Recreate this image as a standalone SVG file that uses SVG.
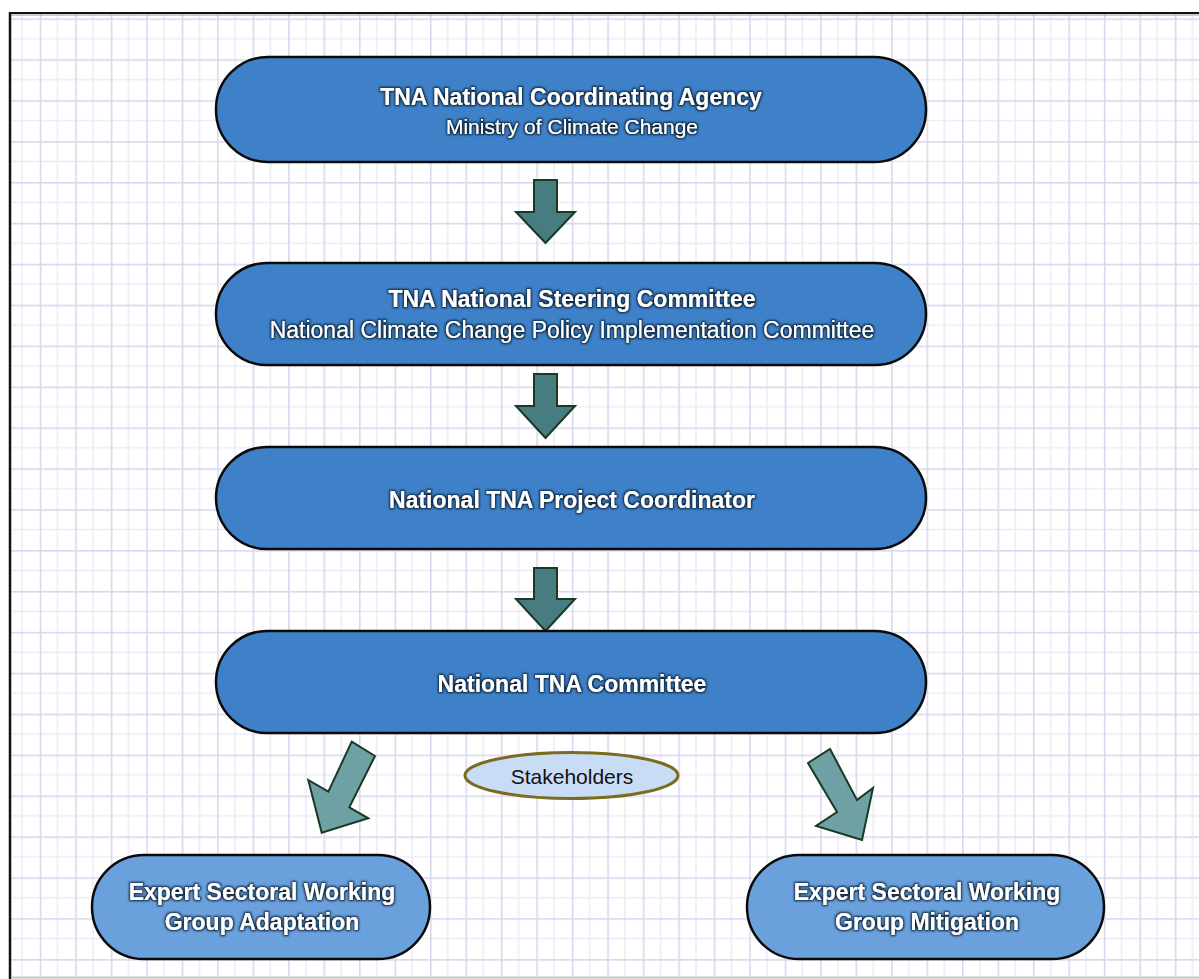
<svg xmlns="http://www.w3.org/2000/svg" width="1199" height="979" viewBox="0 0 1199 979">
<style>
.node{fill:#3f81c9;stroke:#0a0a0a;stroke-width:2.5}
.node2{fill:#6aa0dc;stroke:#0a0a0a;stroke-width:2.5}
.tb{font-family:"Liberation Sans",Arial,sans-serif;font-weight:bold;font-size:23px;fill:#ffffff;text-anchor:middle}
.tr{font-family:"Liberation Sans",Arial,sans-serif;font-size:23px;fill:#ffffff;text-anchor:middle}
.varrow{fill:#477c81;stroke:#183a22;stroke-width:2;stroke-linejoin:miter}
.darrow{fill:#6fa0a4;stroke:#183a22;stroke-width:2;stroke-linejoin:miter}
</style>
<defs>
<pattern id="grid" patternUnits="userSpaceOnUse" x="4.3" y="18.35" width="35.47" height="40.9">
<rect x="17" y="0" width="1.5" height="40.9" fill="#ebebf8"/>
<rect x="0" y="19.7" width="35.47" height="1.5" fill="#ebebf8"/>
<rect x="0" y="0" width="1.6" height="40.9" fill="#d9d7ef"/>
<rect x="0" y="0" width="35.47" height="1.6" fill="#d9d7ef"/>
</pattern>
<filter id="glow" x="-10%" y="-40%" width="120%" height="180%">
<feMorphology in="SourceAlpha" operator="dilate" radius="1" result="d"/>
<feGaussianBlur in="d" stdDeviation="1.3" result="b"/>
<feFlood flood-color="#081a2e" flood-opacity="0.95"/>
<feComposite in2="b" operator="in" result="s"/>
<feMerge><feMergeNode in="s"/><feMergeNode in="SourceGraphic"/></feMerge>
</filter>
</defs>
<rect x="0" y="0" width="1199" height="979" fill="#ffffff"/>
<rect x="11" y="14" width="1188" height="962" fill="url(#grid)"/>
<g id="frame">
<line x1="10" y1="13" x2="1199" y2="13" stroke="#111" stroke-width="2"/>
<line x1="11" y1="15" x2="1199" y2="15" stroke="#999" stroke-width="1"/>
<line x1="10" y1="12" x2="10" y2="979" stroke="#111" stroke-width="2.5"/>
<line x1="11" y1="977.5" x2="1199" y2="977.5" stroke="#c8c8c8" stroke-width="2"/>
</g>
<g id="connectors">
<polygon class="varrow" points="534,180 557,180 557,212 575,212 545.5,243 516,212 534,212"/>
<polygon class="varrow" points="534,374 557,374 557,406 575,406 545.5,438 516,406 534,406"/>
<polygon class="varrow" points="534,568 557,568 557,599 575,599 545.5,631 516,599 534,599"/>
<polygon class="darrow" points="351.7,741.7 375,756 349.3,807.3 368.3,818.3 321.7,832.7 308.3,780 328.3,791.7"/>
<polygon class="darrow" points="808,763 830,749 857,800 873,788 862,840 816,826 837,812"/>
</g>
<g id="n1">
<rect class="node" x="216" y="57" width="710" height="105" rx="52" ry="52"/>
<text class="tb" x="571" y="105" filter="url(#glow)">TNA National Coordinating Agency</text>
<text class="tr" x="572" y="134" style="font-size:21px" filter="url(#glow)">Ministry of Climate Change</text>
</g>
<g id="n2">
<rect class="node" x="216" y="263" width="710" height="102" rx="51" ry="51"/>
<text class="tb" x="572" y="307" filter="url(#glow)">TNA National Steering Committee</text>
<text class="tr" x="572" y="338" filter="url(#glow)">National Climate Change Policy Implementation Committee</text>
</g>
<g id="n3">
<rect class="node" x="216" y="447" width="710" height="102" rx="51" ry="51"/>
<text class="tb" x="572" y="508" filter="url(#glow)">National TNA Project Coordinator</text>
</g>
<g id="n4">
<rect class="node" x="216" y="631" width="710" height="102" rx="51" ry="51"/>
<text class="tb" x="572" y="692" filter="url(#glow)">National TNA Committee</text>
</g>
<g id="stakeholders">
<ellipse cx="571.5" cy="775.5" rx="106.5" ry="23" fill="#c9dcf6" stroke="#7b6b1e" stroke-width="3"/>
<text x="572" y="784" font-family="Liberation Sans, Arial, sans-serif" font-size="21" fill="#111" text-anchor="middle">Stakeholders</text>
</g>
<g id="n5">
<rect class="node2" x="92" y="855" width="338" height="104" rx="52" ry="52"/>
<text class="tb" x="262" y="900" filter="url(#glow)">Expert Sectoral Working</text>
<text class="tb" x="262" y="930" filter="url(#glow)">Group Adaptation</text>
</g>
<g id="n6">
<rect class="node2" x="747" y="855" width="357" height="104" rx="52" ry="52"/>
<text class="tb" x="927" y="900" filter="url(#glow)">Expert Sectoral Working</text>
<text class="tb" x="927" y="930" filter="url(#glow)">Group Mitigation</text>
</g>
</svg>
